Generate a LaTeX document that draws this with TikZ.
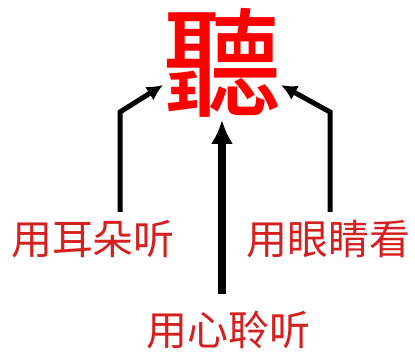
\documentclass[tikz,border=0pt]{standalone}
\usepackage{fontspec}
\newfontfamily\cjk{Noto Sans CJK SC}
\newfontfamily\cjktc{Noto Sans CJK TC}[BoldFont={Noto Sans CJK TC Medium}]
\usetikzlibrary{arrows.meta}
\definecolor{wayred}{RGB}{214,32,32}

\begin{document}
\begin{tikzpicture}[x=1pt,y=-1pt]
\tikzset{
 way/.style={text=wayred, font=\cjk\fontsize{41}{41}\selectfont, inner sep=0pt},
 arr/.style={black, line width=5pt, -{Latex[length=16pt,width=16pt]}},
}
\useasboundingbox (0,0) rectangle (415,352);
\node[text=red, font=\cjktc\bfseries\fontsize{118}{118}\selectfont, inner sep=0pt] (ting) at (222,63) {聽};
\node[way] (ear) at (93,239) {用耳朵听};
\node[way] (eye) at (328,239) {用眼睛看};
\node[way] (heart) at (228,330) {用心聆听};
% bends and tips of the side arrows
\coordinate (earbend) at (120,112);
\coordinate (eyebend) at (330,112);
\coordinate (eartip) at (163,85);
\coordinate (eyetip) at (281,85);
\draw[arr] ([yshift=8pt]ear.north -| earbend) -- (earbend) -- (eartip);
\draw[arr] ([yshift=8pt]eye.north -| eyebend) -- (eyebend) -- (eyetip);
\draw[arr, line width=8pt, -{Latex[length=24pt,width=22pt]}] ([yshift=17pt]heart.north -| ting) -- ([yshift=-2pt]ting.south);
\end{tikzpicture}
\end{document}
